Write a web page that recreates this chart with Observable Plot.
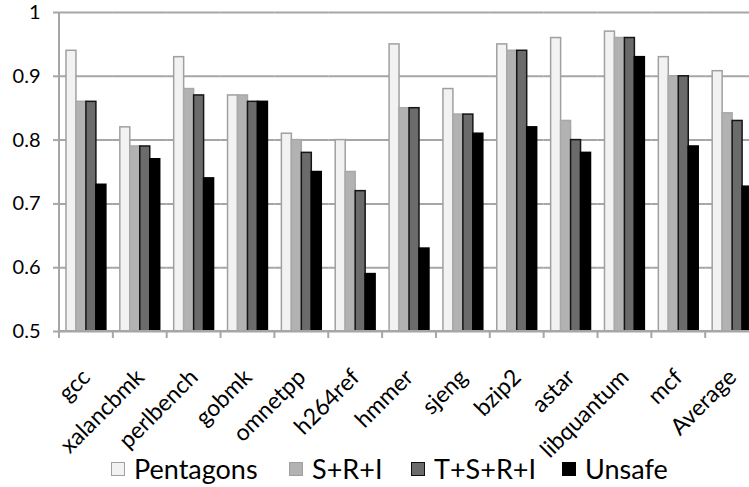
<!DOCTYPE html>
<html><head><meta charset="utf-8">
<script src="https://cdn.jsdelivr.net/npm/d3@7"></script>
<script src="https://cdn.jsdelivr.net/npm/@observablehq/plot@0.6"></script>
<style>
html,body{margin:0;padding:0;overflow:hidden;background:#fff;width:749px;height:487px}
#wrap{position:relative;width:749px;height:487px;overflow:hidden}
#chart{position:absolute;left:0;top:0}
#legend{position:absolute;left:0;top:0;width:749px;height:487px;font-family:Lato,sans-serif;font-size:27px;line-height:27px;color:#000;pointer-events:none}
.sw{position:absolute;top:462px;width:14px;height:14px;box-sizing:border-box;border:1.5px solid}
.lt{position:absolute;top:455px;white-space:nowrap}
</style></head><body><div id="wrap"><div id="chart"></div><div id="legend"></div></div>
<script>
const categories = ["gcc","xalancbmk","perlbench","gobmk","omnetpp","h264ref","hmmer","sjeng","bzip2","astar","libquantum","mcf","Average"];
const series = ["Pentagons","S+R+I","T+S+R+I","Unsafe"];
const pentagons = [0.94,0.82,0.93,0.87,0.81,0.80,0.95,0.88,0.95,0.96,0.97,0.93,0.908];
const sri       = [0.86,0.79,0.88,0.87,0.80,0.75,0.85,0.84,0.94,0.83,0.96,0.90,0.842];
const tsri      = [0.86,0.79,0.87,0.86,0.78,0.72,0.85,0.84,0.94,0.80,0.96,0.90,0.830];
const unsafe    = [0.73,0.77,0.74,0.86,0.75,0.59,0.63,0.81,0.82,0.78,0.93,0.79,0.727];
const yTicks = [0.5,0.6,0.7,0.8,0.9,1];
const fills = ["#f2f2f2","#b2b2b2","#6b6b6b","#000000"];
const strokes = ["#a0a0a0","#a8a8a8","#151515","#000000"];
const legendBorders = ["#a0a0a0","#a0a0a0","#111111","#000000"];
const legendLeft = [111, 289, 411, 562];

const seriesValues = [pentagons, sri, tsri, unsafe];
const table = categories.flatMap((c, i) => seriesValues.map((arr, j) => ({category: c, series: series[j], value: arr[i]})));

const barMarks = series.map((s, j) => Plot.barY(table.filter(d => d.series === s), {
  fx: "category", x: "series", y1: 0.5, y2: "value",
  fill: fills[j], stroke: strokes[j], strokeWidth: 1.5
}));

// the reference chart is cropped on the right: the last category runs past the 749px edge
const W = 749, left = 59, step = 53.85;
const plot = Plot.plot({
  width: W, height: 487,
  marginLeft: left, marginRight: 0, marginTop: 12, marginBottom: 156,
  style: {fontFamily: "Lato, sans-serif", fontSize: "20px", color: "#000", background: "transparent"},
  fx: {domain: categories, padding: 0, round: false, range: [left, left + step * categories.length], label: null},
  x: {domain: series, paddingInner: 0, paddingOuter: 0.7, round: false, axis: null},
  y: {domain: [0.5, 1], label: null},
  marks: [
    Plot.gridY(yTicks, {stroke: "#a6a6a6", strokeOpacity: 1, strokeWidth: 2}),
    ...barMarks,
    Plot.axisY(yTicks, {tickSize: 6, tickPadding: 13, tickFormat: d => String(d), stroke: "#a6a6a6", strokeWidth: 2, fill: "#000", fontSize: 20, label: null}),
    Plot.axisFx({anchor: "bottom", tickRotate: -45, tickSize: 0, tickPadding: 42, dx: 0, fontSize: 23, fill: "#000", label: null})
  ]
});

// axis line and category boundary ticks, placed through Plot's own scales
const fx = plot.scale("fx"), y = plot.scale("y");
const g = d3.select(plot).append("g").attr("stroke", "#a6a6a6").attr("stroke-width", 2);
const y0 = y.apply(0.5), y1 = y.apply(1);
const x0 = fx.apply(categories[0]);
g.append("line").attr("x1", x0).attr("x2", x0).attr("y1", y1).attr("y2", y0);
g.append("line").attr("x1", x0).attr("x2", fx.apply(categories[categories.length-1]) + fx.step).attr("y1", y0).attr("y2", y0);
categories.forEach(c => {
  const xb = fx.apply(c);
  g.append("line").attr("x1", xb).attr("x2", xb).attr("y1", y0).attr("y2", y0 + 7);
});
document.getElementById("chart").appendChild(plot);

const legend = document.getElementById("legend");
series.forEach((s, j) => {
  const sw = document.createElement("span"); sw.className = "sw";
  sw.style.left = legendLeft[j] + "px";
  sw.style.background = fills[j]; sw.style.borderColor = legendBorders[j];
  const tx = document.createElement("span"); tx.className = "lt";
  tx.style.left = (legendLeft[j] + 23) + "px";
  tx.textContent = s;
  legend.appendChild(sw); legend.appendChild(tx);
});
</script></body></html>
